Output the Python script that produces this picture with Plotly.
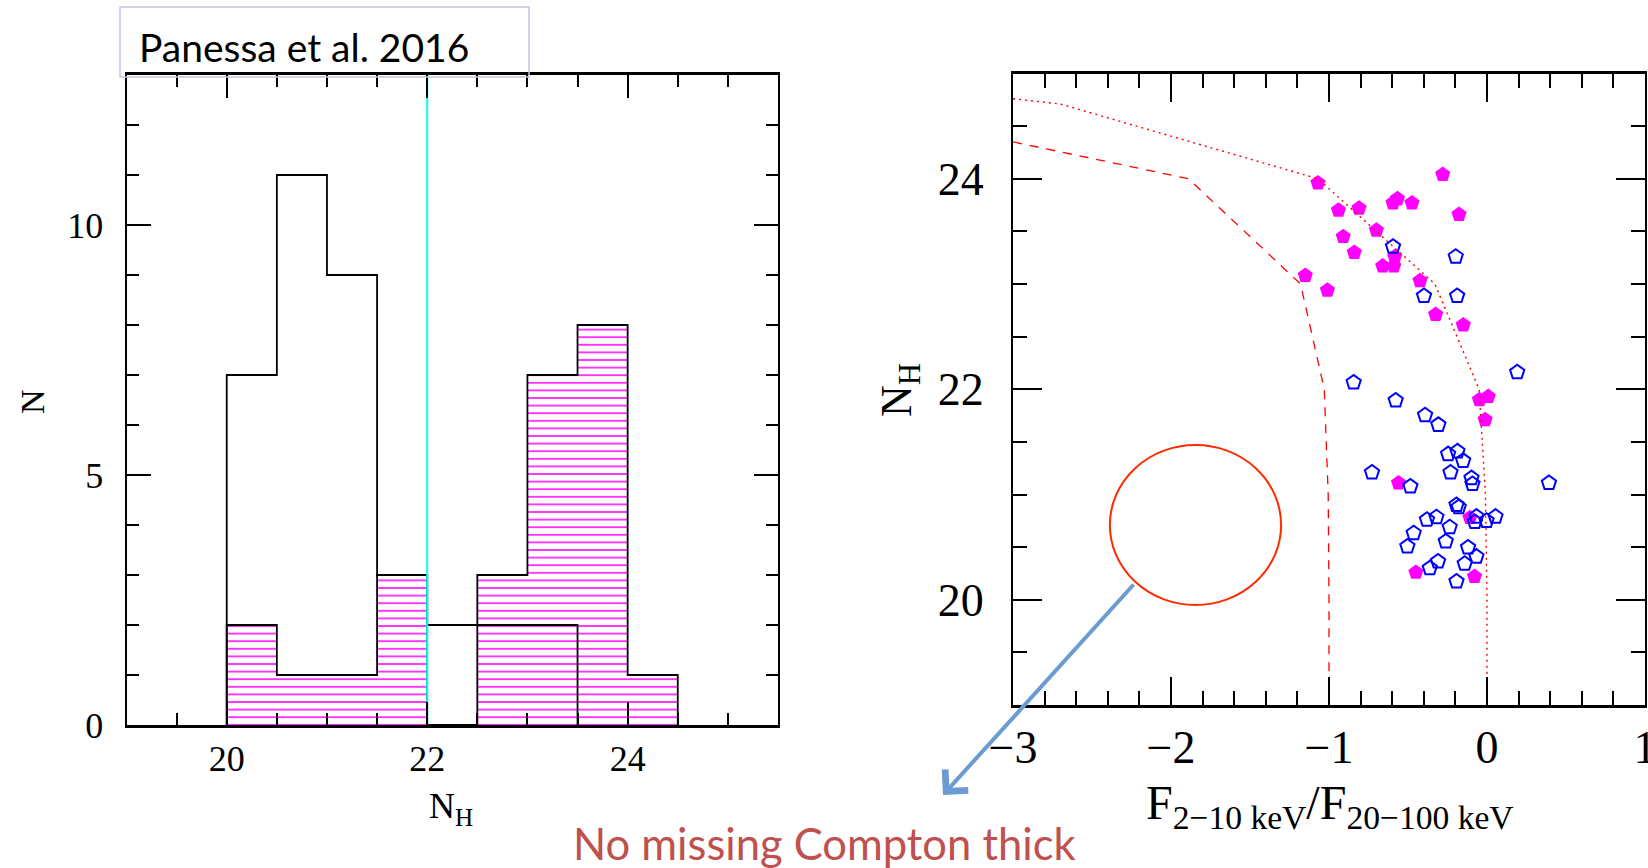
import plotly.graph_objects as go

W, H = 1648, 868

# ---------------- left panel : N_H histograms ----------------
bin_lo = [20.0, 20.5, 21.0, 21.5, 22.0, 22.5, 23.0, 23.5, 24.0]
bin_width = 0.5
type1_counts = [7, 11, 9, 3, 2, 2, 2, 0, 0]
type2_counts = [2, 1, 1, 3, 0, 3, 7, 8, 1]
nh_split = 22.0
hist_x_range = [19.0, 25.5]
hist_y_range = [0.0, 13.0]
hist_xtick_vals = [20, 22, 24]
hist_xtick_text = ["20", "22", "24"]
hist_ytick_vals = [0, 5, 10]
hist_ytick_text = ["0", "5", "10"]

# ---------------- right panel : N_H vs flux ratio ----------------
type2_ratio = [-1.07, -0.28, -0.94, -0.81, -0.595, -0.567, -0.475, -0.177, -0.70, -0.91,
               -0.84, -0.584, -0.66, -0.59, -1.15, -1.01, -0.424, -0.325, -0.15, -0.048,
               0.008, -0.012, -0.56, -0.108, -0.45, -0.079]
type2_nh = [23.96, 24.04, 23.70, 23.72, 23.77, 23.81, 23.77, 23.66, 23.51, 23.45,
            23.30, 23.26, 23.17, 23.17, 23.08, 22.94, 23.03, 22.71, 22.61, 21.90,
            21.93, 21.71, 21.11, 20.78, 20.26, 20.22]
type1_ratio = [-0.595, -0.198, -0.399, -0.189, -0.844, -0.578, -0.392, -0.308, 0.191, -0.246,
               -0.187, -0.151, -0.728, -0.231, -0.098, -0.092, -0.485, -0.193, -0.179, -0.067,
               -0.077, -0.003, 0.054, -0.38, -0.32, -0.236, -0.464, -0.504, -0.261, -0.12,
               -0.067, -0.141, -0.31, -0.362, -0.193, 0.392]
type1_nh = [23.355, 23.26, 22.887, 22.887, 22.064, 21.893, 21.754, 21.662, 22.162, 21.384,
            21.41, 21.32, 21.21, 21.21, 21.156, 21.10, 21.076, 20.90, 20.88, 20.79,
            20.74, 20.75, 20.79, 20.76, 20.785, 20.69, 20.633, 20.506, 20.554, 20.497,
            20.41, 20.342, 20.364, 20.30, 20.174, 21.11]
model_dotted_ratio = [-3.0, -2.70, -1.07, -0.33, -0.05, -0.01, 0.0, 0.0]
model_dotted_nh = [24.76, 24.71, 24.0, 23.0, 22.0, 21.0, 20.0, 19.0]
model_dashed_ratio = [-3.0, -1.89, -1.18, -1.03, -1.005, -1.0, -1.0]
model_dashed_nh = [24.35, 24.0, 23.0, 22.0, 21.0, 20.0, 19.0]
ratio_range = [-3.0, 1.0]
nh_range = [19.0, 25.0]
ratio_tick_vals = [-3, -2, -1, 0, 1]
ratio_tick_text = ["\u22123", "\u22122", "\u22121", "0", "1"]
nh_tick_vals = [20, 22, 24]
nh_tick_text = ["20", "22", "24"]
ct_region_ratio = [-2.387, -1.303]
ct_region_nh = [19.95, 21.47]


def px(x):
    return x / W


def py(y):
    return 1 - y / H


def step_xy(lo, counts, width):
    k = max(i for i, c in enumerate(counts) if c > 0)
    xs = [lo[0]] + list(lo[:k + 1]) + [lo[k] + width]
    ys = [0] + list(counts[:k + 1]) + [0]
    return xs, ys


SERIF = "Liberation Serif"
fig = go.Figure()

# hatched type-2 histogram
fig.add_trace(go.Bar(
    x=[v + bin_width / 2 for v in bin_lo], y=type2_counts, width=bin_width,
    marker=dict(color="white", line=dict(width=0),
                pattern=dict(shape="-", fgcolor="#ff00ff", bgcolor="white",
                             size=7.6, solidity=0.2, fillmode="replace")),
    xaxis="x", yaxis="y", showlegend=False, hoverinfo="skip"))

sx, sy = step_xy(bin_lo, type2_counts, bin_width)
fig.add_trace(go.Scatter(x=sx, y=sy, mode="lines", line=dict(color="black", width=1.8, shape="hv"),
                         xaxis="x", yaxis="y", showlegend=False))
sx, sy = step_xy(bin_lo, type1_counts, bin_width)
fig.add_trace(go.Scatter(x=sx, y=sy, mode="lines", line=dict(color="black", width=1.8, shape="hv"),
                         xaxis="x", yaxis="y", showlegend=False))
fig.add_trace(go.Scatter(x=[nh_split, nh_split], y=hist_y_range, mode="lines",
                         line=dict(color="#00ffff", width=2), xaxis="x", yaxis="y", showlegend=False))

# right panel
fig.add_trace(go.Scatter(x=type2_ratio, y=type2_nh, mode="markers",
                         marker=dict(symbol="pentagon", size=16, color="#ff00ff", line=dict(width=0)),
                         xaxis="x2", yaxis="y2", showlegend=False))
fig.add_trace(go.Scatter(x=type1_ratio, y=type1_nh, mode="markers",
                         marker=dict(symbol="pentagon-open", size=15, color="#0000ff",
                                     line=dict(width=2, color="#0000ff")),
                         xaxis="x2", yaxis="y2", showlegend=False))
fig.add_trace(go.Scatter(x=model_dotted_ratio, y=model_dotted_nh, mode="lines",
                         line=dict(color="#ff0000", width=1.4, dash="2px,4px"),
                         xaxis="x2", yaxis="y2", showlegend=False))
fig.add_trace(go.Scatter(x=model_dashed_ratio, y=model_dashed_nh, mode="lines",
                         line=dict(color="#ff0000", width=1.3, dash="9px,8px"),
                         xaxis="x2", yaxis="y2", showlegend=False))

tickfont_l = dict(family=SERIF, size=36, color="black")
tickfont_r = dict(family=SERIF, size=46, color="black")
common = dict(showgrid=False, zeroline=False, showline=True, linecolor="black", automargin=False,
              mirror="ticks", ticks="inside", tickcolor="black", tickmode="array",
              ticklabeloverflow="allow")

fig.update_layout(
    width=W, height=H, margin=dict(l=0, r=0, t=0, b=0, autoexpand=False),
    paper_bgcolor="white", plot_bgcolor="white", showlegend=False, bargap=0,
    xaxis=dict(domain=[px(126.5), px(778)], range=hist_x_range, anchor="y",
               tickvals=hist_xtick_vals, ticktext=hist_xtick_text, ticklen=23, tickwidth=2,
               linewidth=3, tickfont=tickfont_l, ticklabelstandoff=0,
               minor=dict(tickmode="linear", tick0=19, dtick=0.5, ticklen=12, tickwidth=2,
                          ticks="inside", tickcolor="black"), **common),
    yaxis=dict(domain=[py(725), py(75)], range=hist_y_range, anchor="x",
               tickvals=hist_ytick_vals, ticktext=hist_ytick_text, ticklen=24, tickwidth=2,
               linewidth=2, tickfont=tickfont_l, ticklabelstandoff=14,
               minor=dict(tickmode="linear", tick0=0, dtick=1, ticklen=12, tickwidth=2,
                          ticks="inside", tickcolor="black"), **common),
    xaxis2=dict(domain=[px(1013), px(1645)], range=ratio_range, anchor="y2",
                tickvals=ratio_tick_vals, ticktext=ratio_tick_text, ticklen=28, tickwidth=2,
                linewidth=3, tickfont=tickfont_r, ticklabelstandoff=0,
                minor=dict(tickmode="linear", tick0=-3, dtick=0.2, ticklen=14, tickwidth=2,
                           ticks="inside", tickcolor="black"), **common),
    yaxis2=dict(domain=[py(705), py(73.5)], range=nh_range, anchor="x2",
                tickvals=nh_tick_vals, ticktext=nh_tick_text, ticklen=29, tickwidth=2,
                linewidth=2.3, tickfont=tickfont_r, ticklabelstandoff=18,
                minor=dict(tickmode="linear", tick0=19, dtick=0.5, ticklen=14, tickwidth=2,
                           ticks="inside", tickcolor="black"), **common),
)

# highlighted empty region
fig.add_shape(type="circle", xref="x2", yref="y2",
              x0=ct_region_ratio[0], x1=ct_region_ratio[1], y0=ct_region_nh[0], y1=ct_region_nh[1],
              line=dict(color="#ff2a00", width=2), fillcolor="rgba(0,0,0,0)")
# title box
fig.add_shape(type="rect", xref="paper", yref="paper", x0=px(120), x1=px(529), y0=py(7), y1=py(77),
              line=dict(color="#c9c3dd", width=1.5), fillcolor="rgba(0,0,0,0)")

anns = [
    dict(text="Panessa et al. 2016", x=px(137), y=py(47), xanchor="left", yanchor="middle",
         font=dict(family="Lato", size=39, color="black")),
    dict(text="N", x=px(33), y=py(402), textangle=-90, xanchor="center", yanchor="middle",
         font=dict(family=SERIF, size=34, color="black")),
    dict(text="N<sub>H</sub>", x=px(451), y=py(808), xanchor="center", yanchor="middle",
         font=dict(family=SERIF, size=36, color="black")),
    dict(text="N<sub>H</sub>", x=px(899), y=py(390), textangle=-90, xanchor="center", yanchor="middle",
         font=dict(family=SERIF, size=44, color="black")),
    dict(text="F<sub>2\u221210 keV</sub>/F<sub>20\u2212100 keV</sub>",
         x=px(1330), y=py(806), xanchor="center", yanchor="middle",
         font=dict(family=SERIF, size=48, color="black")),
    dict(text="No missing Compton thick", x=px(824), y=py(843), xanchor="center", yanchor="middle",
         font=dict(family="Lato", size=43.5, color="#c0504d")),
]
for a in anns:
    fig.add_annotation(xref="paper", yref="paper", showarrow=False, **a)

fig.add_annotation(xref="paper", yref="paper", x=px(943), y=py(795), ax=192, ay=-212,
                   text="", showarrow=True, arrowhead=4, arrowsize=1.5, arrowwidth=4,
                   arrowcolor="#6b9bd1")

fig.write_html("out.html")
